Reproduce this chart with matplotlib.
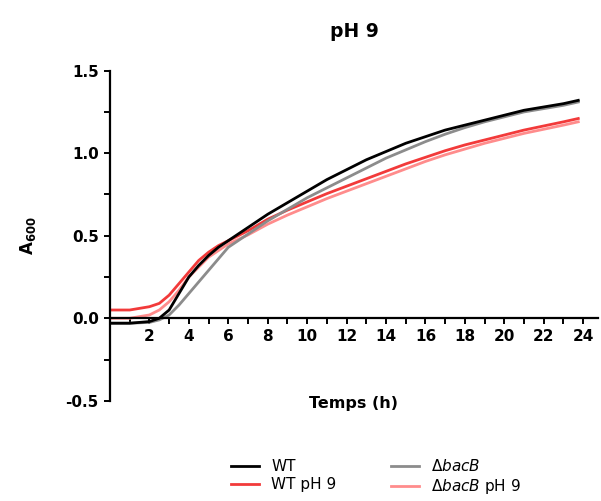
import matplotlib.pyplot as plt
from matplotlib.ticker import MultipleLocator

# growth curves (A600 vs time in h)
temps = [0, 1, 2, 2.5, 3, 3.5, 4, 4.5, 5, 5.5, 6, 7, 8, 9, 10, 11, 12,
         13, 14, 15, 16, 17, 18, 19, 20, 21, 22, 23, 23.75]
wt = [-0.03, -0.03, -0.02, 0.0, 0.05, 0.15, 0.25, 0.32, 0.38, 0.43, 0.47,
      0.55, 0.63, 0.70, 0.77, 0.84, 0.90, 0.96, 1.01, 1.06, 1.10, 1.14,
      1.17, 1.20, 1.23, 1.26, 1.28, 1.30, 1.32]
bacb = [-0.03, -0.03, -0.025, -0.01, 0.02, 0.08, 0.15, 0.22, 0.29, 0.36,
        0.43, 0.51, 0.59, 0.66, 0.73, 0.79, 0.85, 0.91, 0.97, 1.02, 1.07,
        1.115, 1.155, 1.19, 1.22, 1.25, 1.27, 1.29, 1.31]
wt_ph9 = [0.05, 0.05, 0.07, 0.09, 0.14, 0.21, 0.28, 0.35, 0.40, 0.44, 0.47,
          0.53, 0.60, 0.655, 0.705, 0.755, 0.80, 0.845, 0.89, 0.935, 0.975,
          1.015, 1.05, 1.08, 1.11, 1.14, 1.165, 1.19, 1.21]
bacb_ph9 = [0.0, 0.0, 0.02, 0.05, 0.10, 0.17, 0.25, 0.31, 0.37, 0.41, 0.45,
            0.505, 0.57, 0.625, 0.675, 0.725, 0.77, 0.815, 0.86, 0.905, 0.95,
            0.99, 1.025, 1.06, 1.09, 1.12, 1.145, 1.17, 1.19]

xticks = list(range(2, 25, 2))
yticks = [-0.5, 0.0, 0.5, 1.0, 1.5]

plt.rcParams['font.family'] = 'DejaVu Sans'
plt.rcParams['mathtext.fontset'] = 'dejavusans'

fig = plt.figure(figsize=(6.01, 5.01), dpi=100)
ax = fig.add_axes([0.183, 0.2, 0.812, 0.659])

ax.plot(temps, bacb_ph9, color='#ff8c8c', lw=2, label=r'$\Delta\mathit{bacB}$ pH 9')
ax.plot(temps, wt_ph9, color='#f23a3a', lw=2, label='WT pH 9')
ax.plot(temps, bacb, color='#8c8c8c', lw=2, label=r'$\Delta\mathit{bacB}$')
ax.plot(temps, wt, color='black', lw=2, label='WT')

ax.set_xlim(0, 24.75)
ax.set_ylim(-0.5, 1.5)
ax.spines['top'].set_visible(False)
ax.spines['right'].set_visible(False)
ax.spines['bottom'].set_position(('data', 0))
for s in ['left', 'bottom']:
    ax.spines[s].set_linewidth(1.6)

ax.set_xticks(xticks)
ax.set_xticklabels([str(t) for t in xticks])
ax.set_yticks(yticks)
ax.set_yticklabels([f'{v:.1f}' for v in yticks])
ax.xaxis.set_minor_locator(MultipleLocator(1))
ax.yaxis.set_minor_locator(MultipleLocator(0.25))
ax.tick_params(which='both', direction='out', length=4.5, width=1.4)
for lbl in ax.get_xticklabels() + ax.get_yticklabels():
    lbl.set_fontweight('bold')
    lbl.set_fontsize(11)

ax.set_title('pH 9', fontsize=13.5, fontweight='bold', pad=24)
ax.set_xlabel('Temps (h)', fontsize=11.5, fontweight='bold')
ax.xaxis.set_label_coords(0.5, 0.015)
ax.set_ylabel(r'$\mathbf{A}_{\mathbf{600}}$', fontsize=12)
ax.yaxis.set_label_coords(-0.148, 0.5)

h, l = ax.get_legend_handles_labels()
order = [3, 1, 2, 0]
fig.legend([h[i] for i in order], [l[i] for i in order], ncol=2,
           loc='upper left', bbox_to_anchor=(0.385, 0.085), frameon=False,
           fontsize=11, handlelength=1.8, columnspacing=3.6,
           labelspacing=0.2, borderaxespad=0, borderpad=0)

fig.savefig('out.png', dpi=100)
